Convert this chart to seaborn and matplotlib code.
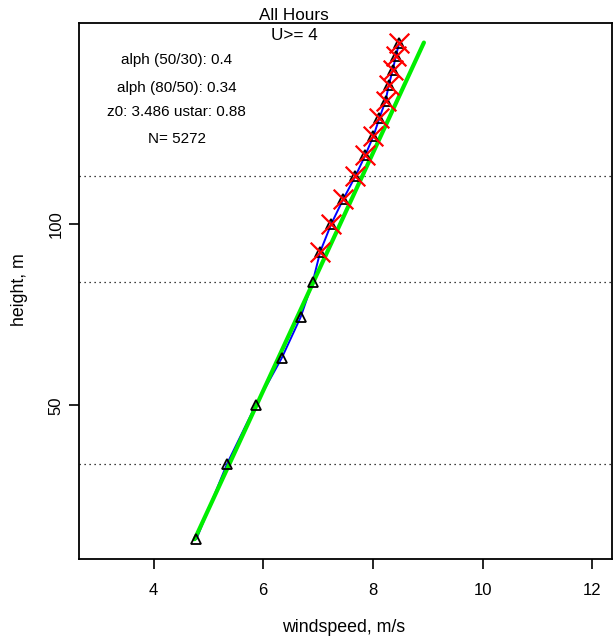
import matplotlib
matplotlib.use("Agg")
import matplotlib.pyplot as plt
import matplotlib.ticker as mticker
import seaborn as sns
import pandas as pd

# ---- data ----
heights = [30, 40, 50, 60, 70, 80, 90, 100, 110, 120, 130, 140, 150, 160, 170, 180, 190, 200]
speeds = [4.78, 5.34, 5.86, 6.34, 6.68, 6.90, 7.04, 7.24, 7.46, 7.68, 7.86, 8.01,
          8.12, 8.23, 8.29, 8.36, 8.42, 8.48]
lidar_heights = [90, 100, 110, 120, 130, 140, 150, 160, 170, 180, 190, 200]
lidar_speeds = [7.04, 7.24, 7.46, 7.68, 7.86, 8.01, 8.12, 8.23, 8.29, 8.36, 8.42, 8.48]
fit_heights = [30, 200]
fit_speeds = [4.75, 8.93]
ref_heights = [40, 80, 120]
x_ticks = [4, 6, 8, 10, 12]
y_ticks = [50, 100]
title = "All Hours"
subtitle = "U>= 4"
notes = ["alph (50/30): 0.4", "alph (80/50): 0.34", "z0: 3.486 ustar: 0.88", "N= 5272"]

sns.set_theme(style="white")
plt.rcParams["font.family"] = ["Liberation Sans", "DejaVu Sans"]
plt.rcParams["text.color"] = "black"
plt.rcParams["xtick.color"] = "black"
plt.rcParams["ytick.color"] = "black"
plt.rcParams["axes.labelcolor"] = "black"

W, H = 613, 644
fig = plt.figure(figsize=(W / 100, H / 100), dpi=100)
ax = fig.add_axes([79 / W, 1 - 559 / H, (612 - 79) / W, (559 - 22.7) / H])

prof = pd.DataFrame({"speed": speeds, "height": heights})
lid = pd.DataFrame({"speed": lidar_speeds, "height": lidar_heights})
fit = pd.DataFrame({"speed": fit_speeds, "height": fit_heights})

for h in ref_heights:
    ax.axhline(h, color="black", linestyle=(0, (1, 3)), linewidth=0.9, zorder=1)

sns.lineplot(data=prof, x="speed", y="height", sort=False, color="blue",
             linewidth=1.4, ax=ax, zorder=2)
sns.lineplot(data=fit, x="speed", y="height", sort=False, color="#00ee00",
             linewidth=3.0, ax=ax, zorder=3)
ax.plot(prof["speed"], prof["height"], linestyle="none", marker="^", markersize=7,
        markerfacecolor="none", markeredgecolor="black", markeredgewidth=1.3, zorder=4)
sns.scatterplot(data=lid, x="speed", y="height", marker="x", color="red", s=200,
                linewidth=1.6, ax=ax, zorder=5)

ax.set_yscale("log")
ax.set_xlim(2.64, 12.36)
ax.set_ylim(30 / (200 / 30) ** 0.04, 200 * (200 / 30) ** 0.04)
ax.set_xticks(x_ticks)
ax.set_xticklabels([str(v) for v in x_ticks])
ax.yaxis.set_major_locator(mticker.FixedLocator(y_ticks))
ax.yaxis.set_major_formatter(mticker.FixedFormatter([str(v) for v in y_ticks]))
ax.yaxis.set_minor_locator(mticker.NullLocator())
ax.tick_params(axis="both", direction="out", length=7.2, width=1.2, color="black",
               labelsize=12, labelcolor="black")
ax.tick_params(axis="x", pad=10, bottom=True)
ax.tick_params(axis="y", pad=4, left=True)
for lab in ax.get_yticklabels():
    lab.set_rotation(90)
    lab.set_va("center")

for s in ax.spines.values():
    s.set_visible(True)
    s.set_color("black")
    s.set_linewidth(1.3)

ax.set_xlabel("")
ax.set_ylabel("")
fig.text(344 / W, 1 - 627 / H, "windspeed, m/s", ha="center", va="center", fontsize=12.8)
fig.text(19 / W, 1 - 290 / H, "height, m", ha="center", va="center", rotation=90, fontsize=12.8)
fig.text(294 / W, 1 - 16 / H, title, ha="center", va="center", fontsize=12.3)
fig.text(294.5 / W, 1 - 35 / H, subtitle, ha="center", va="center", fontsize=12.3)

note_y = [60, 88, 112, 139]
for t, yy in zip(notes, note_y):
    fig.text(176.7 / W, 1 - yy / H, t, ha="center", va="center", fontsize=11)

fig.savefig("out.png", dpi=100)
